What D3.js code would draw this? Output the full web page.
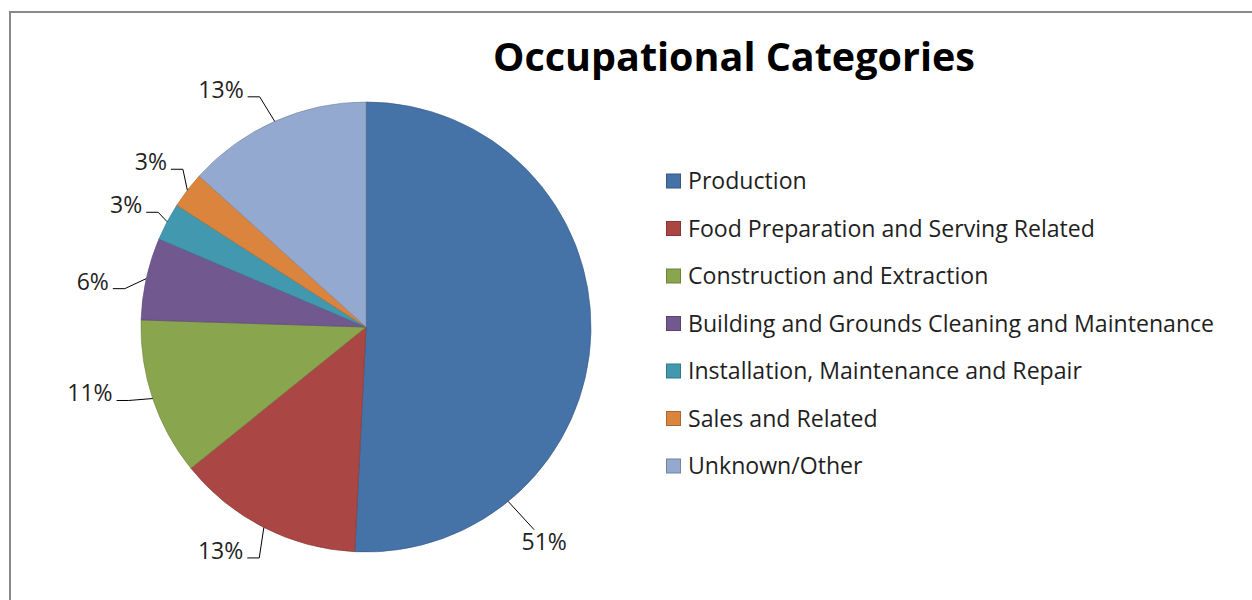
<!DOCTYPE html>
<html lang="en">
<head>
<meta charset="UTF-8">
<title>Occupational Categories</title>
<script src="https://d3js.org/d3.v7.min.js"></script>
<style>
  body { margin: 0; background: #fff; }
  text { font-family: "Open Sans", Lato, sans-serif; fill: #1f1f1f; font-variant-ligatures: none; }
</style>
</head>
<body>
<div id="chart"></div>
<script>
  // data (percent of total)
  const categories = [
    "Production",
    "Food Preparation and Serving Related",
    "Construction and Extraction",
    "Building and Grounds Cleaning and Maintenance",
    "Installation, Maintenance and Repair",
    "Sales and Related",
    "Unknown/Other"
  ];
  const values = [50.8, 13.4, 11.3, 5.9, 2.7, 2.6, 13.3];
  const colors = ["#4572A7", "#AA4643", "#89A54E", "#71588F", "#4198AF", "#DB843D", "#93A9CF"];

  const width = 1252, height = 600;
  const cx = 366, cy = 327, radius = 225;

  // where excel put the labels (angle shift in degrees, distance, anchor fraction along slice)
  const labelTweak = [
    {frac: 0.77, dAngle: -0.5, r: 279},
    {dAngle: 6, r: 267},
    {dAngle: 5, r: 284},
    {dAngle: -3, r: 277},
    {dAngle: -1, r: 269},
    {dAngle: 0, r: 271},
    {dAngle: -7.5, r: 278}
  ];

  const svg = d3.select('#chart').append('svg')
    .attr('width', width).attr('height', height);

  // chart frame
  svg.append('rect')
    .attr('x', 10).attr('y', 12)
    .attr('width', width + 20).attr('height', height + 20)
    .attr('fill', '#fff')
    .attr('stroke', '#898989')
    .attr('stroke-width', 2);

  svg.append('text')
    .attr('x', 734).attr('y', 71)
    .attr('text-anchor', 'middle')
    .style('font-size', '39.5px')
    .style('font-weight', 'bold')
    .style('fill', '#000')
    .text('Occupational Categories');

  const data = categories.map((c, i) => ({name: c, value: values[i], color: colors[i], i: i}));
  const total = d3.sum(values);

  const pie = d3.pie().sort(null).value(d => d.value);
  const arc = d3.arc().innerRadius(0).outerRadius(radius);
  const arcs = pie(data);

  const g = svg.append('g').attr('transform', `translate(${cx},${cy})`);

  g.selectAll('path.slice').data(arcs).enter()
    .append('path')
    .attr('class', 'slice')
    .attr('d', arc)
    .attr('fill', d => d.data.color)
    .attr('stroke', d => d3.color(d.data.color).darker(0.6))
    .attr('stroke-width', 0.8)
    .attr('stroke-opacity', 0.8);

  // data labels with leader lines
  const pt = (a, r) => [r * Math.sin(a), -r * Math.cos(a)];
  const deg = Math.PI / 180;

  arcs.forEach((d, i) => {
    const tw = labelTweak[i];
    const frac = tw.frac != null ? tw.frac : 0.5;
    const a = d.startAngle + (d.endAngle - d.startAngle) * frac;
    const anchor = pt(a, radius);
    const tpos = pt(a + tw.dAngle * deg, tw.r);

    const label = g.append('text')
      .attr('x', tpos[0]).attr('y', tpos[1] + 8)
      .attr('text-anchor', 'middle')
      .style('font-size', '23px')
      .text(Math.round(d.data.value / total * 100) + '%');
    const w = label.node().getComputedTextLength();

    let pts;
    if (tpos[0] < 0) {
      const ly = tpos[1] + 7;
      pts = [anchor, [tpos[0] + w / 2 + 16, ly], [tpos[0] + w / 2 + 4, ly]];
    } else {
      pts = [anchor, [tpos[0] - 10, tpos[1] - 12]];
    }
    g.append('path')
      .attr('d', d3.line()(pts))
      .attr('fill', 'none')
      .attr('stroke', '#000')
      .attr('stroke-width', 1);
  });

  // legend
  const legend = svg.append('g').attr('transform', 'translate(666,181)');
  const rows = legend.selectAll('g').data(data).enter()
    .append('g')
    .attr('transform', (d, i) => `translate(0,${i * 47.5})`);

  rows.append('rect')
    .attr('x', 0.5).attr('y', -7)
    .attr('width', 14).attr('height', 14)
    .attr('fill', d => d.color)
    .attr('stroke', d => d3.color(d.color).darker(0.7))
    .attr('stroke-width', 1);

  rows.append('text')
    .attr('x', 22).attr('y', 0)
    .attr('dy', '0.36em')
    .style('font-size', '23.1px')
    .text(d => d.name);
</script>
</body>
</html>
